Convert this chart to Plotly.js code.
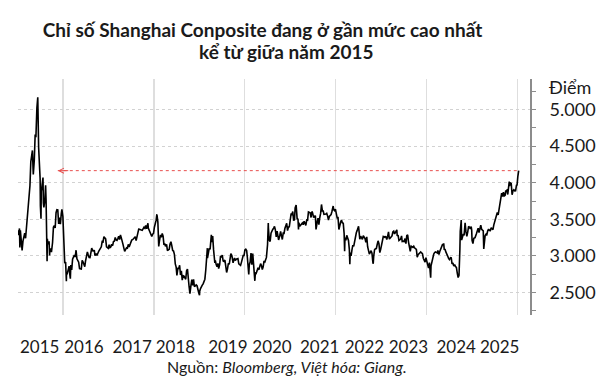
<!DOCTYPE html>
<html>
<head>
<meta charset="utf-8">
<script src="https://cdn.plot.ly/plotly-3.0.1.min.js"></script>
<style>html,body{margin:0;padding:0;background:#fff;}#chart{width:611px;height:385px;}</style>
</head>
<body>
<div id="chart"></div>
<script>
// Shanghai Composite, approximate closes (date MM-DD, points)
const s2015 = [["01-05",3351],["01-09",3285],["01-16",3376],["01-19",3116],["01-23",3351],["01-30",3210],["02-06",3076],["02-13",3203],["02-17",3247],["02-27",3310],["03-06",3241],["03-13",3373],["03-20",3617],["03-27",3691],["04-03",3863],["04-10",3958],["04-17",4287],["04-24",4394],["04-30",4441],["05-07",4112],["05-15",4308],["05-22",4658],["05-28",4620],["06-05",5023],["06-12",5166],["06-19",4478],["06-26",4192],["07-01",4054],["07-03",3686],["07-08",3507],["07-10",3877],["07-17",3957],["07-24",4070],["07-27",3725],["07-31",3664],["08-07",3744],["08-14",3965],["08-18",3748],["08-21",3508],["08-26",2927],["08-28",3232],["09-02",3160],["09-11",3200],["09-15",3005],["09-18",3097],["09-25",3093],["09-30",3053],["10-09",3183],["10-16",3391],["10-23",3414],["10-30",3383],["11-06",3590],["11-13",3632],["11-20",3630],["11-27",3436],["12-04",3525],["12-11",3435],["12-18",3578],["12-23",3636],["12-31",3539]];
const s2016 = [["01-04",3297],["01-07",3125],["01-08",3186],["01-15",2901],["01-22",2916],["01-28",2656],["01-29",2738],["02-05",2763],["02-19",2860],["02-25",2742],["02-29",2688],["03-04",2874],["03-11",2810],["03-18",2955],["03-25",2979],["04-01",3010],["04-08",2985],["04-15",3078],["04-22",2960],["04-29",2938],["05-06",2914],["05-13",2828],["05-20",2826],["05-27",2822],["06-03",2939],["06-08",2927],["06-17",2885],["06-24",2854],["06-30",2930],["07-08",2989],["07-15",3054],["07-22",3013],["07-29",2979],["08-05",2977],["08-12",3050],["08-19",3108],["08-26",3070],["09-02",3068],["09-09",3078],["09-14",3003],["09-23",3033],["09-30",3005],["10-14",3063],["10-21",3091],["10-28",3104],["11-04",3125],["11-11",3196],["11-18",3192],["11-25",3262],["12-02",3243],["12-09",3232],["12-16",3123],["12-23",3110],["12-30",3104]];
const s2017 = [["01-06",3154],["01-13",3113],["01-20",3123],["01-26",3159],["02-03",3140],["02-10",3196],["02-17",3202],["02-24",3253],["03-03",3218],["03-10",3212],["03-17",3237],["03-24",3269],["03-31",3223],["04-07",3287],["04-14",3246],["04-21",3173],["04-28",3155],["05-05",3103],["05-11",3062],["05-19",3090],["05-26",3110],["06-02",3105],["06-09",3158],["06-16",3123],["06-23",3158],["06-30",3192],["07-07",3218],["07-14",3222],["07-21",3238],["07-28",3253],["08-04",3262],["08-11",3209],["08-18",3268],["08-25",3331],["09-01",3367],["09-08",3365],["09-15",3353],["09-22",3353],["09-29",3349],["10-13",3390],["10-20",3378],["10-27",3417],["11-03",3372],["11-14",3447],["11-17",3382],["11-24",3353],["12-01",3317],["12-08",3289],["12-15",3266],["12-22",3297],["12-29",3307]];
const s2018 = [["01-05",3392],["01-12",3429],["01-19",3488],["01-24",3559],["01-26",3558],["02-02",3462],["02-09",3129],["02-14",3199],["02-23",3289],["03-02",3254],["03-09",3307],["03-16",3269],["03-23",3152],["03-30",3169],["04-04",3131],["04-13",3159],["04-20",3071],["04-27",3082],["05-04",3091],["05-11",3163],["05-18",3193],["05-25",3141],["06-01",3075],["06-08",3067],["06-15",3022],["06-22",2890],["06-29",2847],["07-05",2733],["07-13",2831],["07-20",2829],["07-27",2873],["08-03",2740],["08-10",2795],["08-17",2669],["08-24",2730],["08-31",2725],["09-07",2702],["09-14",2681],["09-21",2797],["09-28",2821],["10-11",2583],["10-18",2486],["10-26",2598],["11-02",2676],["11-09",2598],["11-16",2679],["11-23",2579],["11-30",2588],["12-07",2605],["12-14",2593],["12-21",2516],["12-28",2494]];
const s2019 = [["01-03",2464],["01-04",2514],["01-11",2554],["01-18",2596],["01-25",2601],["02-01",2618],["02-15",2682],["02-22",2804],["03-01",2994],["03-07",3106],["03-08",2969],["03-15",3021],["03-22",3104],["03-29",3090],["04-04",3247],["04-08",3288],["04-12",3189],["04-19",3270],["04-26",3086],["05-06",2906],["05-10",2939],["05-17",2882],["05-24",2853],["05-31",2898],["06-06",2827],["06-14",2882],["06-21",3001],["06-28",2979],["07-05",3011],["07-12",2930],["07-19",2924],["07-26",2944],["08-02",2868],["08-09",2774],["08-16",2824],["08-23",2898],["08-30",2886],["09-06",2999],["09-12",3031],["09-20",3006],["09-27",2932],["09-30",2905],["10-11",2973],["10-18",2938],["10-25",2955],["11-01",2958],["11-08",2964],["11-15",2891],["11-22",2885],["11-29",2871],["12-06",2912],["12-13",2968],["12-20",3005],["12-27",3005],["12-31",3050]];
const s2020 = [["01-03",3083],["01-10",3092],["01-17",3075],["01-23",2976],["02-03",2746],["02-07",2876],["02-14",2917],["02-21",3039],["02-28",2880],["03-06",3034],["03-13",2887],["03-20",2745],["03-23",2660],["03-27",2772],["04-03",2764],["04-10",2796],["04-17",2838],["04-24",2809],["04-30",2860],["05-08",2895],["05-15",2868],["05-22",2813],["05-29",2852],["06-05",2931],["06-12",2920],["06-19",2968],["06-24",2980],["07-03",3152],["07-06",3332],["07-09",3451],["07-10",3383],["07-17",3214],["07-24",3197],["07-31",3310],["08-07",3354],["08-14",3361],["08-21",3380],["08-28",3404],["09-04",3355],["09-11",3260],["09-18",3338],["09-25",3219],["09-30",3218],["10-09",3272],["10-16",3336],["10-23",3278],["10-30",3225],["11-06",3312],["11-13",3310],["11-20",3378],["11-27",3408],["12-04",3445],["12-11",3347],["12-18",3395],["12-25",3397],["12-31",3473]];
const s2021 = [["01-08",3570],["01-15",3566],["01-22",3607],["01-29",3483],["02-05",3496],["02-10",3655],["02-18",3696],["02-26",3509],["03-05",3502],["03-09",3360],["03-12",3454],["03-19",3405],["03-26",3418],["03-31",3441],["04-09",3451],["04-16",3426],["04-23",3474],["04-30",3447],["05-07",3418],["05-14",3490],["05-21",3487],["05-28",3601],["06-04",3592],["06-11",3589],["06-18",3525],["06-25",3607],["06-30",3591],["07-09",3524],["07-16",3539],["07-23",3550],["07-28",3362],["07-30",3397],["08-06",3458],["08-13",3517],["08-20",3427],["08-27",3522],["09-03",3581],["09-10",3703],["09-17",3614],["09-24",3613],["09-30",3568],["10-15",3572],["10-22",3582],["10-29",3547],["11-05",3491],["11-12",3539],["11-19",3560],["11-26",3564],["12-03",3607],["12-13",3682],["12-17",3632],["12-24",3618],["12-31",3640]];
const s2022 = [["01-07",3580],["01-14",3521],["01-21",3523],["01-28",3361],["02-11",3462],["02-18",3491],["02-25",3451],["03-04",3447],["03-11",3309],["03-15",3064],["03-18",3251],["03-25",3212],["04-01",3282],["04-08",3252],["04-15",3211],["04-22",3087],["04-26",2886],["04-29",3047],["05-06",3001],["05-13",3084],["05-20",3147],["05-27",3131],["06-02",3195],["06-10",3285],["06-17",3316],["06-24",3349],["07-05",3405],["07-08",3356],["07-15",3228],["07-22",3270],["07-29",3253],["08-05",3227],["08-12",3277],["08-19",3258],["08-26",3236],["09-02",3186],["09-09",3262],["09-16",3126],["09-23",3088],["09-30",3024],["10-14",3071],["10-21",3038],["10-28",2915],["10-31",2893],["11-04",2997],["11-11",3087],["11-18",3097],["11-25",3101],["12-02",3156],["12-09",3206],["12-16",3167],["12-23",3045],["12-30",3089]];
const s2023 = [["01-06",3157],["01-13",3195],["01-20",3265],["01-31",3256],["02-03",3263],["02-10",3261],["02-17",3224],["02-24",3267],["03-03",3328],["03-10",3230],["03-17",3250],["03-24",3265],["03-31",3273],["04-07",3327],["04-14",3338],["04-21",3301],["04-28",3323],["05-05",3350],["05-09",3357],["05-12",3272],["05-19",3283],["05-26",3212],["06-02",3230],["06-09",3231],["06-16",3273],["06-21",3197],["06-30",3202],["07-07",3197],["07-14",3237],["07-21",3168],["07-28",3276],["08-04",3288],["08-11",3189],["08-18",3131],["08-25",3064],["09-01",3133],["09-08",3117],["09-15",3117],["09-22",3132],["09-28",3110],["10-13",3088],["10-20",2983],["10-27",3017],["11-03",3030],["11-10",3039],["11-17",3054],["11-24",3041],["12-01",3032],["12-08",2969],["12-15",2942],["12-22",2914],["12-29",2975]];
const s2024 = [["01-05",2929],["01-12",2882],["01-19",2833],["01-26",2910],["02-02",2730],["02-05",2702],["02-08",2866],["02-23",3005],["03-01",3027],["03-08",3046],["03-15",3055],["03-22",3048],["03-29",3041],["04-03",3074],["04-12",3019],["04-19",3065],["04-26",3088],["04-30",3105],["05-10",3154],["05-17",3154],["05-20",3171],["05-24",3089],["05-31",3087],["06-07",3051],["06-14",3033],["06-21",2998],["06-28",2967],["07-05",2950],["07-12",2971],["07-19",2982],["07-26",2891],["08-02",2905],["08-09",2862],["08-16",2880],["08-23",2855],["08-30",2843],["09-06",2766],["09-13",2704],["09-20",2736],["09-24",2864],["09-27",3088],["09-30",3336],["10-08",3489],["10-11",3217],["10-18",3261],["10-25",3300],["10-31",3280],["11-08",3452],["11-15",3331],["11-22",3267],["11-29",3326],["12-06",3404],["12-13",3392],["12-20",3368],["12-27",3400],["12-31",3352]];
const s2025 = [["01-03",3211],["01-10",3169],["01-17",3241],["01-24",3252],["01-27",3250],["02-07",3303],["02-14",3346],["02-21",3379],["02-28",3320],["03-07",3373],["03-14",3419],["03-21",3364],["03-28",3351],["04-03",3342],["04-07",3096],["04-11",3238],["04-18",3277],["04-25",3295],["04-30",3279],["05-09",3342],["05-16",3367],["05-23",3348],["05-30",3347],["06-06",3385],["06-13",3377],["06-20",3359],["06-27",3424],["07-04",3473],["07-11",3510],["07-18",3534],["07-25",3593],["08-01",3560],["08-08",3635],["08-15",3697],["08-22",3825],["08-29",3858],["09-05",3812],["09-12",3870],["09-19",3820],["09-26",3828],["09-30",3883],["10-10",3897],["10-17",3839],["10-24",3950],["10-29",4016],["10-31",3955],["11-07",3997],["11-14",3990],["11-21",3835],["11-28",3889],["12-05",3903],["12-12",3889],["12-19",3890],["12-26",3964],["12-31",3969]];
const s2026 = [["01-06",4083],["01-09",4120],["01-13",4165]];

const yearSeries = {2015:s2015,2016:s2016,2017:s2017,2018:s2018,2019:s2019,2020:s2020,2021:s2021,2022:s2022,2023:s2023,2024:s2024,2025:s2025,2026:s2026};

// Tick labels
const yearLabels = ["2015","2016","2017","2018","2019","2020","2021","2022","2023","2024","2025"];

// Texts
const titleLine1 = "Chỉ số Shanghai Conposite đang ở gần mức cao nhất";
const titleLine2 = "kể từ giữa năm 2015";
const unitLabel = "Điểm";
const sourceText = "Nguồn: <i>Bloomberg, Việt hóa: Giang.</i>";

// Build series
const dates = [], values = [];
Object.keys(yearSeries).forEach(y => {
  yearSeries[y].forEach(p => { dates.push(y + "-" + p[0]); values.push(p[1]); });
});
const lastDate = dates[dates.length - 1];
const lastValue = values[values.length - 1];
const arrowTipDate = "2015-11-20";

const labelDates = ["2015-06-27","2016-06-17","2017-07-10","2018-06-23","2019-08-19","2020-08-08","2021-08-26","2022-08-21","2023-08-10","2024-08-28","2025-08-13"];
const gridDates = ["2016-01-01","2018-01-01","2020-01-01","2022-01-01","2024-01-01","2026-01-01"];

const FONT = "Lato, 'Open Sans', sans-serif";

const traces = [
  {x: dates, y: values, type: "scatter", mode: "lines", xaxis: "x", yaxis: "y",
   line: {color: "#000000", width: 1.6}, hoverinfo: "skip", showlegend: false},
  {x: [arrowTipDate, lastDate], y: [lastValue, lastValue], type: "scatter", mode: "lines",
   xaxis: "x2", yaxis: "y",
   line: {color: "#e8504f", width: 1, dash: "dot"}, hoverinfo: "skip", showlegend: false}
];

const layout = {
  width: 611, height: 385,
  margin: {l: 18, r: 81, t: 79, b: 70},
  paper_bgcolor: "#ffffff", plot_bgcolor: "#ffffff",
  separators: ",.",
  showlegend: false,
  font: {family: FONT, color: "#1a1a1a"},
  title: {text: titleLine1, font: {family: FONT, size: 19, color: "#1a1a1a", weight: "bold"},
          x: 262.5/611, xanchor: "center", xref: "container",
          y: 1 - 30/385, yanchor: "middle", yref: "container"},
  // grid axis: vertical lines every two years, no labels
  xaxis: {
    type: "date",
    range: ["2015-01-04", "2026-04-14"],
    tickmode: "array", tickvals: gridDates,
    showticklabels: false,
    showgrid: true, gridcolor: "#dedede", gridwidth: 1.3,
    zeroline: false, showline: false, ticks: "",
    fixedrange: true
  },
  // label axis: year labels
  xaxis2: {
    type: "date",
    overlaying: "x", matches: "x", side: "bottom",
    range: ["2015-01-04", "2026-04-14"],
    tickmode: "array", tickvals: labelDates, ticktext: yearLabels,
    showgrid: false, zeroline: false, showline: false, ticks: "",
    tickfont: {family: FONT, size: 17, color: "#1a1a1a"},
    ticklabelstandoff: 20,
    fixedrange: true
  },
  yaxis: {
    side: "right",
    range: [2193, 5417],
    tickmode: "linear", tick0: 0, dtick: 500,
    tickformat: ",d",
    showgrid: true, gridcolor: "#d2d2d2", gridwidth: 1, griddash: "dot",
    zeroline: false,
    showline: true, linecolor: "#8c8c8c", linewidth: 2,
    ticks: "outside", ticklen: 4, tickcolor: "#8c8c8c", tickwidth: 1,
    minor: {dtick: 250, tick0: 0, ticks: "outside", ticklen: 4, tickcolor: "#8c8c8c", showgrid: false},
    tickfont: {family: FONT, size: 18, color: "#1a1a1a"},
    ticklabelstandoff: 10,
    fixedrange: true
  },
  annotations: [
    {text: titleLine2, xref: "paper", yref: "paper", x: (286.5-18)/512, y: (315-51)/236,
     xanchor: "center", yanchor: "middle", showarrow: false,
     font: {family: FONT, size: 19, color: "#1a1a1a", weight: "bold"}},
    {text: unitLabel, xref: "paper", yref: "paper", x: (547-18)/512, y: (315-87)/236,
     xanchor: "left", yanchor: "middle", showarrow: false,
     font: {family: FONT, size: 18, color: "#1a1a1a"}},
    {text: sourceText, xref: "paper", yref: "paper", x: (287-18)/512, y: (315-366)/236,
     xanchor: "center", yanchor: "middle", showarrow: false,
     font: {family: FONT, size: 16, color: "#1a1a1a"}},
    {text: "", x: arrowTipDate, y: lastValue, xref: "x", yref: "y",
     ax: 12, ay: 0, axref: "pixel", ayref: "pixel",
     showarrow: true, arrowhead: 5, arrowsize: 1, arrowwidth: 1, arrowcolor: "#e8504f"}
  ]
};

Plotly.newPlot("chart", traces, layout, {displayModeBar: false, staticPlot: true});
</script>
</body>
</html>
